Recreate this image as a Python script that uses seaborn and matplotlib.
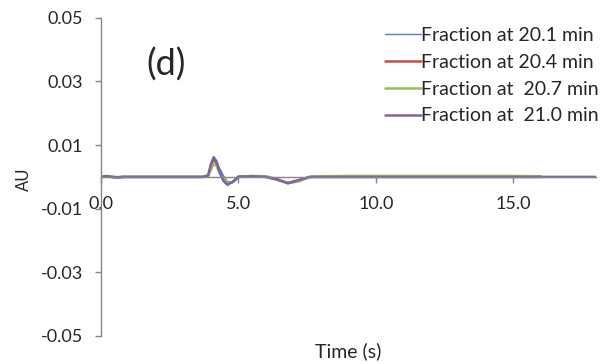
import numpy as np
import pandas as pd
import matplotlib
matplotlib.use("Agg")
import matplotlib.pyplot as plt
import seaborn as sns

# --- data ---
time_s = [0.0, 0.2, 0.4, 0.6, 0.8, 1.0, 2.0, 3.0, 3.7, 3.9, 4.0, 4.1, 4.2, 4.3,
          4.45, 4.6, 4.8, 5.0, 5.5, 6.0, 6.4, 6.8, 7.2, 7.6, 8.0, 9.0, 10.0,
          11.0, 12.0, 13.0, 14.0, 15.0, 16.0, 17.0, 18.0]

au_201 = [0.0, 0.0, -0.0002, -0.0004, -0.0002, 0.0, 0.0, 0.0, 0.0, 0.0003, 0.0020,
          0.0040, 0.0045, 0.0030, 0.0005, -0.0015, -0.0018, -0.0002, 0.0001, 0.0,
          -0.0010, -0.0020, -0.0012, -0.0002, 0.0, 0.0001, 0.0001, 0.0001, 0.0001,
          0.0001, 0.0001, 0.0001, 0.0, np.nan, np.nan]
au_204 = [0.0, 0.0002, 0.0, -0.0002, 0.0, 0.0, 0.0, 0.0, 0.0, 0.0004, 0.0035,
          0.0055, 0.0045, 0.0020, -0.0008, -0.0022, -0.0015, 0.0, 0.0002, 0.0,
          -0.0008, -0.0019, -0.0010, 0.0, 0.0, 0.0, 0.0, 0.0, 0.0, 0.0, 0.0,
          0.0, 0.0, np.nan, np.nan]
au_207 = [0.0, 0.0, 0.0, -0.0001, 0.0, 0.0, 0.0, 0.0, 0.0, 0.0002, 0.0025,
          0.0042, 0.0035, 0.0015, -0.0005, -0.0020, -0.0016, 0.0, 0.0003, 0.0002,
          -0.0006, -0.0020, -0.0014, 0.0, 0.0002, 0.0003, 0.0003, 0.0003, 0.0003,
          0.0003, 0.0003, 0.0003, 0.0002, np.nan, np.nan]
au_210 = [0.0, 0.0003, 0.0, -0.0001, 0.0, 0.0, 0.0, 0.0, 0.0, 0.0005, 0.0040,
          0.0062, 0.0050, 0.0020, -0.0012, -0.0025, -0.0015, 0.0001, 0.0002, 0.0,
          -0.0008, -0.0020, -0.0010, 0.0, 0.0, 0.0, 0.0, 0.0, 0.0, 0.0, 0.0,
          0.0, 0.0, 0.0, 0.0]

labels = ["Fraction at 20.1 min", "Fraction at 20.4 min",
          "Fraction at  20.7 min", "Fraction at  21.0 min"]
colors = ["#4F81BD", "#C0504D", "#9BBB59", "#8064A2"]
widths = [1.0, 1.8, 1.8, 1.8]

y_ticks = [0.05, 0.03, 0.01, -0.01, -0.03, -0.05]
x_ticks = [0, 5, 10, 15]

# --- long form table ---
frames = []
for lab, vals in zip(labels, [au_201, au_204, au_207, au_210]):
    frames.append(pd.DataFrame({"time": time_s, "au": vals, "series": lab}))
df = pd.concat(frames, ignore_index=True).dropna()

sns.set_style("white")
plt.rcParams["font.family"] = ["Lato", "DejaVu Sans"]

FS = 13

fig = plt.figure(figsize=(6.08, 3.64), dpi=100)
ax = fig.add_axes([0.166, 0.077, 0.814, 0.874])

sns.lineplot(data=df, x="time", y="au", hue="series", hue_order=labels,
             palette=colors, ax=ax, legend=False, estimator=None, sort=False)
for line, lw in zip(ax.get_lines(), widths):
    line.set_linewidth(lw)
    line.set_solid_joinstyle("round")

ax.set_xlim(0, 18)
ax.set_ylim(-0.05, 0.05)
ax.set_yticks(y_ticks)
ax.set_yticklabels([f"{v:.2f}" for v in y_ticks])
ax.set_xticks(x_ticks)
ax.set_xticklabels([f"{v:.1f}" for v in x_ticks])

for side in ["top", "right"]:
    ax.spines[side].set_visible(False)
ax.spines["bottom"].set_position(("data", 0))
for side in ["left", "bottom"]:
    ax.spines[side].set_color("#868686")
    ax.spines[side].set_linewidth(1.0)

ax.tick_params(axis="y", direction="out", length=4, width=1, color="#868686",
               pad=9, labelsize=FS, left=True)
ax.tick_params(axis="x", direction="out", length=4, width=1, color="#868686",
               pad=10, labelsize=FS, bottom=True)

ax.set_xlabel("Time (s)", fontsize=FS + 1)
ax.xaxis.set_label_coords(0.5, -0.02)
ax.set_ylabel("AU", fontsize=FS - 1)
ax.yaxis.set_label_coords(-0.14, 0.494)

ax.text(0.131, 0.853, "(d)", transform=ax.transAxes, fontsize=26,
        ha="center", va="center")

handles = [plt.Line2D([], [], color=c, lw=w) for c, w in zip(colors, widths)]
fig.legend(handles, labels, loc="upper right", bbox_to_anchor=(1.0, 0.952),
           frameon=False, fontsize=FS + 1, handlelength=1.85, handletextpad=0.0,
           labelspacing=0.5, borderaxespad=0.1)

fig.savefig("out.png", dpi=100)
